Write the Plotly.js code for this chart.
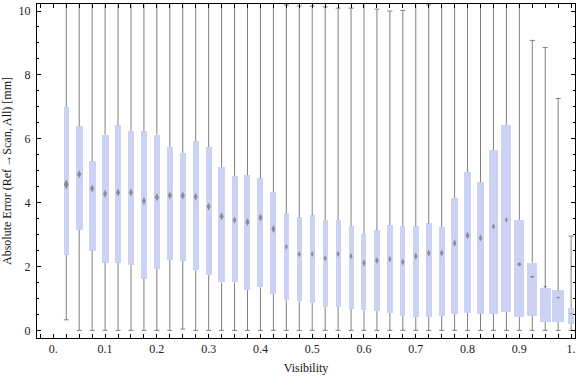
<!DOCTYPE html>
<html>
<head>
<meta charset="utf-8">
<script src="https://cdn.plot.ly/plotly-3.0.1.min.js"></script>
<style>html,body{margin:0;padding:0;background:#fff;}#chart{width:576px;height:377px;}</style>
</head>
<body>
<div id="chart"></div>
<script>
// ---- data ----
const visibility = [0.025,0.05,0.075,0.1,0.125,0.15,0.175,0.2,0.225,0.25,
                    0.275,0.3,0.325,0.35,0.375,0.4,0.425,0.45,0.475,0.5,
                    0.525,0.55,0.575,0.6,0.625,0.65,0.675,0.7,0.725,0.75,
                    0.775,0.8,0.825,0.85,0.875,0.9,0.925,0.95,0.975,1.0];
const whiskerMin = [0.33,0,0,0,0,0,0,0,0,0.04,
                    0,0,0,0,0,0,0,0,0,0,
                    0,0,0,0,0,0,0,0,0,0,
                    0,0,0,0,0,0,0,0,0,0];
const lowerQuartile = [2.37,3.14,2.50,2.12,2.12,2.04,1.62,1.92,2.20,2.17,
                       1.88,1.73,1.50,1.50,1.26,1.35,1.14,0.94,0.91,0.85,
                       0.73,0.73,0.67,0.63,0.61,0.54,0.45,0.42,0.42,0.45,
                       0.52,0.54,0.52,0.52,0.57,0.42,0.45,0.26,0.26,0.21];
const centerValue = [4.57,4.89,4.44,4.28,4.32,4.32,4.05,4.17,4.22,4.22,
                     4.18,3.88,3.57,3.45,3.39,3.53,3.17,2.62,2.38,2.39,
                     2.26,2.39,2.32,2.11,2.19,2.23,2.14,2.32,2.42,2.42,
                     2.73,2.97,2.89,3.25,3.46,2.07,1.68,1.37,1.03,0.52];
const upperQuartile = [6.99,6.39,5.30,6.13,6.42,6.24,6.23,6.13,5.74,5.55,
                       5.92,5.74,5.11,4.83,4.86,4.76,4.33,3.67,3.54,3.60,
                       3.45,3.45,3.26,3.01,3.13,3.29,3.26,3.26,3.35,3.23,
                       4.14,4.95,4.64,5.64,6.43,3.45,2.12,1.32,1.25,0.69];
const whiskerMax = [12,12,12,12,12,12,12,12,12,12,
                    10.35,12,12,12,12,12,12,10.19,10.16,10.16,
                    10.13,10.09,10.09,10.33,10.06,10.0,10.02,10.33,10.19,12,
                    10.33,12,12,12,12,10.33,9.08,8.86,7.26,2.95];
const xTickVals = [0,0.1,0.2,0.3,0.4,0.5,0.6,0.7,0.8,0.9,1.0];
const xTickText = ["0.","0.1","0.2","0.3","0.4","0.5","0.6","0.7","0.8","0.9","1."];
const yTickVals = [0,2,4,6,8,10];
const yTickText = ["0","2","4","6","8","10"];

// ---- styles (kept apart from the data) ----
const pxPerUnit = 517.7;
const boxWidthPx = [5.5,7,7,7,6,6,6,6,6,6,
                    6,6,6.3,6,6,6,6,5,5,5,
                    5,5,5,5,6,5.5,5,6,6,6,
                    7,7,7,9,10,10,9.7,10.7,12,6.5];
const markerSymbol = visibility.map((v,i)=> i<35 ? 'diamond-tall' : (i===35 ? 'diamond' : 'diamond-wide'));
const markerSize = [7,5.7,5.7,5.7,5.7,5.7,5.7,5.7,5.7,5.7,
                    5.7,5.7,5.7,5.2,5.7,5.7,5.7,4.3,4.3,4.3,
                    4.3,4.3,4.3,5,5,4.5,5,5,5,5,
                    5.3,5.5,5,4.3,4,3.5,3.6,3,2.8,2.4];
const boxColor = '#cbd2f4';
const whiskerColor = '#808080';
const markerColor = '#6e6e6e';

// ---- traces ----
const boxes = {
  type: 'bar',
  x: visibility,
  base: lowerQuartile,
  y: upperQuartile.map((q,i)=> q - lowerQuartile[i]),
  width: boxWidthPx.map(w => w / pxPerUnit),
  marker: {color: boxColor, line: {width: 0}},
  hoverinfo: 'skip'
};

const wx = [], wy = [];
visibility.forEach((v,i)=>{
  wx.push(v, v, null, v, v, null);
  wy.push(upperQuartile[i], whiskerMax[i], null, whiskerMin[i], lowerQuartile[i], null);
});
const whiskers = {
  type: 'scatter', mode: 'lines',
  x: wx, y: wy,
  line: {color: whiskerColor, width: 1},
  hoverinfo: 'skip'
};

const caps = {
  type: 'scatter', mode: 'markers',
  x: visibility.concat(visibility),
  y: whiskerMin.concat(whiskerMax),
  marker: {symbol: 'line-ew', size: 3.6, line: {color: whiskerColor, width: 1}},
  cliponaxis: false,
  hoverinfo: 'skip'
};

const centers = {
  type: 'scatter', mode: 'markers',
  x: visibility, y: centerValue,
  marker: {symbol: markerSymbol, size: markerSize, color: markerColor, line: {width: 0}},
  hoverinfo: 'skip'
};

const axisFont = {family: 'Liberation Serif, Times New Roman, serif', size: 12, color: '#222'};

const layout = {
  width: 576, height: 377,
  margin: {l: 37, r: 1, t: 4, b: 39, pad: 0},
  paper_bgcolor: '#fff', plot_bgcolor: '#fff',
  showlegend: false,
  hovermode: false,
  bargap: 0,
  xaxis: {
    range: [-0.0315, 1.0075],
    tickmode: 'array', tickvals: xTickVals, ticktext: xTickText,
    ticks: 'inside', ticklen: 4, tickwidth: 1, tickcolor: '#000',
    minor: {tickmode: 'linear', tick0: 0, dtick: 0.025, ticks: 'inside', ticklen: 4, tickwidth: 1, tickcolor: '#000'},
    showline: true, linecolor: '#000', linewidth: 1, mirror: 'allticks',
    showgrid: false, zeroline: false,
    tickfont: axisFont,
    title: {text: 'Visibility', font: {family: 'Liberation Serif, Times New Roman, serif', size: 12, color: '#111'}, standoff: 8}
  },
  yaxis: {
    range: [-0.24, 10.22],
    tickmode: 'array', tickvals: yTickVals, ticktext: yTickText,
    ticks: 'inside', ticklen: 4, tickwidth: 1, tickcolor: '#000',
    minor: {tickmode: 'linear', tick0: 0, dtick: 0.5, ticks: 'inside', ticklen: 2, tickwidth: 1, tickcolor: '#000'},
    showline: true, linecolor: '#000', linewidth: 1, mirror: 'allticks',
    showgrid: false, zeroline: false,
    tickfont: axisFont,
    ticklabelstandoff: 3,
    title: {text: 'Absolute Error (Ref\u2009\u2192Scan, All) [mm]', font: {family: 'Liberation Serif, Times New Roman, serif', size: 12, color: '#111'}, standoff: 6}
  }
};

Plotly.newPlot('chart', [boxes, whiskers, caps, centers], layout, {staticPlot: true, displayModeBar: false});
</script>
</body>
</html>
